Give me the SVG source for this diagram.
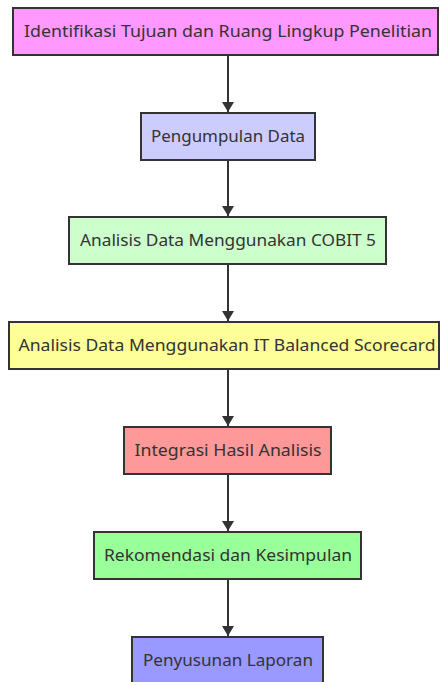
<svg xmlns="http://www.w3.org/2000/svg" width="441" height="682" viewBox="0 0 441 682">
  <style>
    .box { stroke: #333333; stroke-width: 2; }
    .lbl { font-family: "Noto Sans", "DejaVu Sans", sans-serif; font-size: 15.5px; fill: #333333; text-anchor: middle; }
    .edge { stroke: #333333; stroke-width: 2; fill: none; }
  </style>
  <defs>
    <marker id="arrow" markerWidth="12" markerHeight="12" refX="10" refY="6" orient="auto" markerUnits="userSpaceOnUse">
      <path d="M0,0 L10,6 L0,12 Z" fill="#333333"/>
    </marker>
  </defs>
  <rect width="441" height="682" fill="#ffffff"/>

  <g id="connectors">
    <line class="edge" x1="228" y1="55" x2="228" y2="112" marker-end="url(#arrow)"/>
    <line class="edge" x1="228" y1="160" x2="228" y2="216" marker-end="url(#arrow)"/>
    <line class="edge" x1="228" y1="264" x2="228" y2="321" marker-end="url(#arrow)"/>
    <line class="edge" x1="228" y1="369" x2="228" y2="426" marker-end="url(#arrow)"/>
    <line class="edge" x1="228" y1="474" x2="228" y2="531" marker-end="url(#arrow)"/>
    <line class="edge" x1="228" y1="579" x2="228" y2="636" marker-end="url(#arrow)"/>
  </g>

  <g id="n1">
    <rect class="box" x="13" y="8" width="425" height="47" fill="#ff99ff"/>
    <text class="lbl" x="228" y="37" textLength="408" lengthAdjust="spacingAndGlyphs">Identifikasi Tujuan dan Ruang Lingkup Penelitian</text>
  </g>
  <g id="n2">
    <rect class="box" x="141" y="113" width="174" height="47" fill="#ccccff"/>
    <text class="lbl" x="228" y="142" textLength="154" lengthAdjust="spacingAndGlyphs">Pengumpulan Data</text>
  </g>
  <g id="n3">
    <rect class="box" x="69" y="217" width="317" height="47" fill="#ccffcc"/>
    <text class="lbl" x="228" y="246" textLength="296" lengthAdjust="spacingAndGlyphs">Analisis Data Menggunakan COBIT 5</text>
  </g>
  <g id="n4">
    <rect class="box" x="9" y="322" width="430" height="47" fill="#ffff99"/>
    <text class="lbl" x="227" y="351" textLength="417" lengthAdjust="spacingAndGlyphs">Analisis Data Menggunakan IT Balanced Scorecard</text>
  </g>
  <g id="n5">
    <rect class="box" x="124" y="427" width="207" height="47" fill="#ff9999"/>
    <text class="lbl" x="228" y="456" textLength="187" lengthAdjust="spacingAndGlyphs">Integrasi Hasil Analisis</text>
  </g>
  <g id="n6">
    <rect class="box" x="94" y="532" width="267" height="47" fill="#99ff99"/>
    <text class="lbl" x="228" y="561" textLength="248" lengthAdjust="spacingAndGlyphs">Rekomendasi dan Kesimpulan</text>
  </g>
  <g id="n7">
    <rect class="box" x="132" y="637" width="191" height="47" fill="#9999ff"/>
    <text class="lbl" x="228" y="666" textLength="170" lengthAdjust="spacingAndGlyphs">Penyusunan Laporan</text>
  </g>
</svg>
